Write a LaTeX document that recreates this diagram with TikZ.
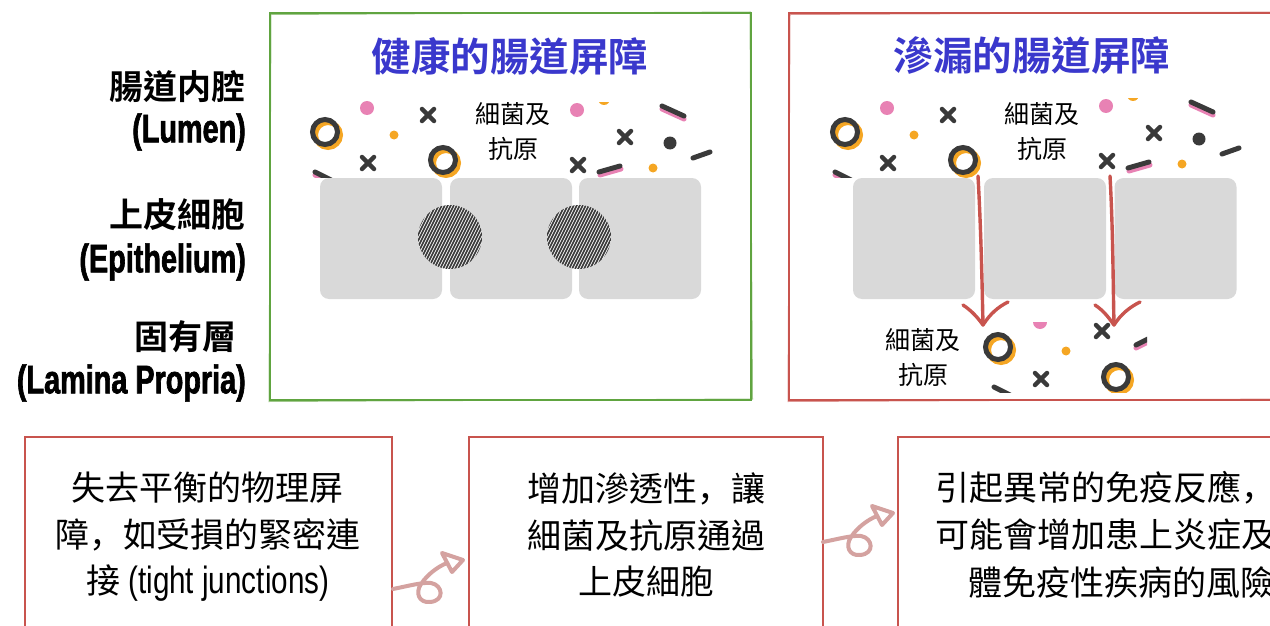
\documentclass[tikz,border=0pt]{standalone}
\usepackage{fontspec}
\setmainfont{Noto Sans CJK TC}
\newfontfamily\cjkbold{Noto Sans CJK TC}[UprightFont={* Bold}]
\newfontfamily\jpcjk{Noto Sans CJK JP}
\newfontfamily\condbold{Liberation Sans}[UprightFont={* Bold},FakeStretch=0.72,FakeBold=1.6]
\newfontfamily\condreg{Liberation Sans}[FakeStretch=0.78]
% full-width comma set at the lower left of its cell
\newcommand{\lowcomma}{{\jpcjk ，}}

\definecolor{titleblue}{RGB}{58,56,204}
\definecolor{framegreen}{RGB}{96,164,64}
\definecolor{framered}{RGB}{200,84,78}
\definecolor{cellgray}{RGB}{217,217,217}
\definecolor{confdark}{RGB}{58,58,58}
\definecolor{confor}{RGB}{245,166,35}
\definecolor{confpink}{RGB}{232,130,180}
\definecolor{loopcol}{RGB}{212,162,160}

\begin{document}
\begin{tikzpicture}[x=1pt,y=-1pt,
  cjklab/.style={inner sep=0pt, anchor=east, font=\cjkbold\fontsize{34}{40}\selectfont},
  latlab/.style={inner sep=0pt, anchor=east, font=\condbold\fontsize{40}{44}\selectfont},
  paneltitle/.style={inner sep=0pt, text=titleblue, font=\cjkbold\fontsize{39.5}{44}\selectfont},
  germs/.style={inner sep=0pt, align=center, font=\fontsize{25}{35}\selectfont},
  boxtext/.style={inner sep=0pt, align=center, font=\fontsize{34}{46.5}\selectfont},
  cell/.style={fill=cellgray, rounded corners=9pt, minimum width=122pt, minimum height=121pt, inner sep=0pt},
  flowbox/.style={draw=framered, line width=2pt, inner sep=0pt, anchor=north west},
  hatchline/.style={draw=confdark, line width=1.7pt},
  dashline/.style={line width=5pt, line cap=round},
  loopline/.style={draw=loopcol, line width=4pt, line cap=round, line join=round},
  leakarrow/.style={draw=framered, line width=3.4pt, line cap=round, line join=round},
  xmark/.pic={\draw[confdark, line width=4.5pt, line cap=round] (-6,-6) -- (6,6) (-6,6) -- (6,-6);},
  ringmark/.pic={\draw[confor, line width=5pt] (3,3) circle (12.5);
                 \draw[confdark, line width=5pt] (0,0) circle (12.5);},
  lumenleft/.pic={
    \begin{scope}
      \clip (295,100) rectangle (500,177);
      \pic at (325,132) {ringmark};
      \fill[confpink] (367,108) circle (7);
      \pic at (428,115) {xmark};
      \fill[confor] (394,135) circle (4.5);
      \pic at (368,163) {xmark};
      \pic at (443,160) {ringmark};
      \draw[confpink, dashline] (315,175) -- (331,183);
      \draw[confdark, dashline] (315,172) -- (331,180);
    \end{scope}},
  lumenright/.pic={
    \begin{scope}
      \clip (560,103) rectangle (725,177);
      \fill[confpink] (577,110) circle (7);
      \fill[confor] (604,99) circle (6);
      \draw[confpink, dashline] (662,109) -- (684,119);
      \draw[confdark, dashline] (662,106) -- (684,116);
      \pic at (625,137) {xmark};
      \fill[confdark] (670,143) circle (6.5);
      \draw[confdark, dashline] (693,158) -- (710,152);
      \pic at (578,165) {xmark};
      \draw[confpink, dashline] (600,175) -- (621,169);
      \draw[confdark, dashline] (599,172) -- (620,166);
      \fill[confor] (653,168) circle (4.5);
    \end{scope}},
  looparrow/.pic={
    \draw[loopline] (0,0) .. controls (15,-3) and (30,-7) .. (38,-6)
      .. controls (50,-4) and (52,12) .. (37,13)
      .. controls (26,14) and (22,4) .. (28,-5)
      .. controls (34,-14) and (44,-22) .. (54,-26);
    \draw[loopline] (49,-36) -- (70,-29) -- (59,-17) -- cycle;},
  tightjunction/.pic={
    \begin{scope}
      \clip (0,0) circle (32);
      \fill[white] (0,0) circle (32);
      \foreach \s in {-60,-57,...,60}
        \draw[hatchline] (\s-20,40) -- (\s+20,-40);
    \end{scope}}
]
\useasboundingbox (0,0) rectangle (1270,626);
\clip (0,0) rectangle (1270,626);

% ---- layer labels on the left
\node[cjklab] (lumen) at (246,87) {腸道内腔};
\node[latlab] (lumenen) at (246,132) {(Lumen)};
\node[cjklab] (epi) at (246,215) {上皮細胞};
\node[latlab] (epien) at (246,262) {(Epithelium)};
\node[cjklab] (lp) at (237,337) {固有層};
\node[latlab] (lpen) at (246,383) {(Lamina Propria)};

% ---- healthy barrier panel
\draw[framegreen, line width=2.2pt] (270,13) rectangle (751,400);
\draw[framegreen, line width=1pt, opacity=0.6] (271,14.5) -- (750,12) -- (752.5,399) -- (269,401.5) -- cycle;
\node[paneltitle] (ttl1) at (510,56) {健康的腸道屏障};
\pic at (0,0) {lumenleft};
\pic at (0,0) {lumenright};
\node[germs] (germ1) at (513,132) {細菌及\\抗原};
\node[cell] (hc1) at (381,238.5) {};
\node[cell] (hc2) at (511,238.5) {};
\node[cell] (hc3) at (640,238.5) {};
\pic at (450,237) {tightjunction};
\pic at (579,237) {tightjunction};

% ---- leaky barrier panel
\draw[framered, line width=2.2pt] (789,13) rectangle (1290,400);
\draw[framered, line width=1pt, opacity=0.6] (790,14.5) -- (1290,12) -- (1290,399) -- (788,401.5) -- cycle;
\node[paneltitle] (ttl2) at (1032,56) {滲漏的腸道屏障};
\pic at (520,0) {lumenleft};
\pic at (529,-4) {lumenright};
\node[germs] (germ2) at (1042,132) {細菌及\\抗原};
\node[cell] (lc1) at (914,238.5) {};
\node[cell] (lc2) at (1045,238.5) {};
\node[cell] (lc3) at (1175.5,238.5) {};

% bacteria passing between the cells
\coordinate (p1s) at (978,176);
\coordinate (p1e) at (983,325);
\coordinate (p2s) at (1110,176);
\coordinate (p2e) at (1114,325);
\draw[leakarrow] (p1s) .. controls (981,230) and (982,280) .. (p1e);
\draw[leakarrow] (963,305) .. controls (972,311) and (978,318) .. (p1e)
                 .. controls (990,314) and (998,307) .. (1008,302);
\draw[leakarrow] (p2s) .. controls (1113,230) and (1113,280) .. (p2e);
\draw[leakarrow] (1095,305) .. controls (1104,311) and (1109,318) .. (p2e)
                 .. controls (1121,314) and (1130,307) .. (1140,302);

% bacteria in the lamina propria
\node[germs] (germ3) at (923,358) {細菌及\\抗原};
\begin{scope}
  \clip (975,322) rectangle (1147,392);
  \pic at (998,347) {ringmark};
  \fill[confpink] (1040,322) circle (7);
  \fill[confor] (1066,351) circle (4.5);
  \pic at (1102,331) {xmark};
  \draw[confpink, dashline] (1136,348) -- (1156,338);
  \draw[confdark, dashline] (1136,345) -- (1156,335);
  \pic at (1041,379) {xmark};
  \pic at (1116,377) {ringmark};
  \draw[confdark, dashline] (994,387) -- (1010,395);
\end{scope}

% ---- consequence chain
\node[flowbox, minimum width=367pt, minimum height=230pt] (b1) at (24,436) {};
\node[flowbox, minimum width=354pt, minimum height=230pt] (b2) at (468,436) {};
\node[flowbox, minimum width=420pt, minimum height=230pt] (b3) at (897,436) {};

\node[boxtext] (b1t) at (208,537) {失去平衡的物理屏\\障\lowcomma 如受損的緊密連\\接 {\condreg\fontsize{38}{46.5}\selectfont (tight junctions)}};
\node[boxtext] (b2t) at (646,535) {增加滲透性\lowcomma 讓\\細菌及抗原通過\\上皮細胞};
\node[boxtext, anchor=west] (b3a) at (935,488) {引起異常的免疫反應\lowcomma};
\node[boxtext, anchor=west] (b3b) at (935,535) {可能會增加患上炎症及};
\node[boxtext, anchor=west] (b3c) at (968,582) {體免疫性疾病的風險};

\coordinate (c1) at (393,589);
\coordinate (c2) at (823,542);
\pic at (c1) {looparrow};
\pic at (c2) {looparrow};
\end{tikzpicture}
\end{document}
